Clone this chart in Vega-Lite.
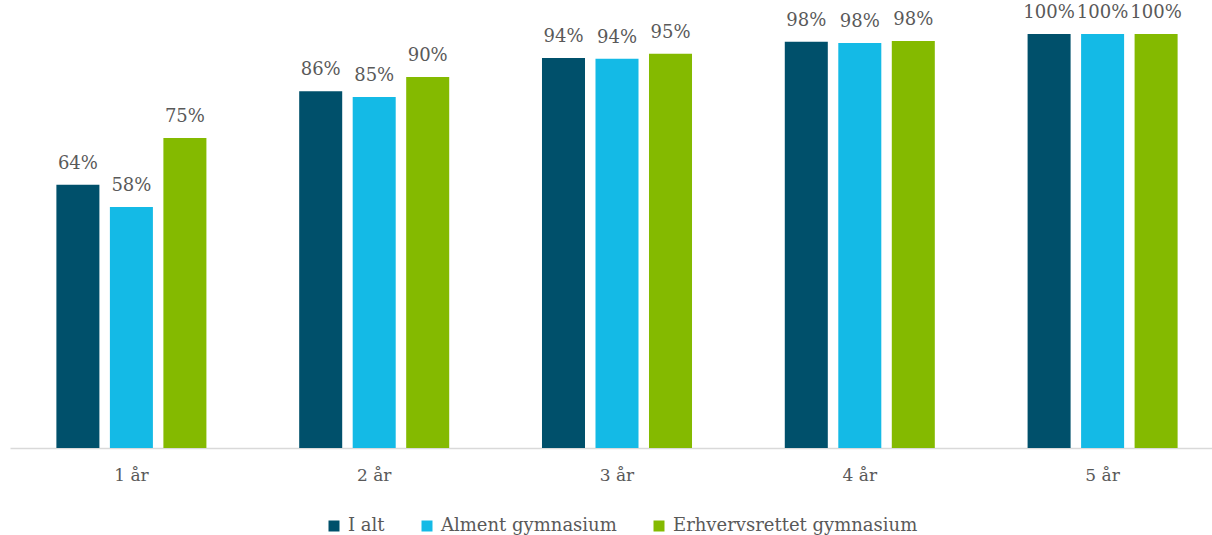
{
  "$schema": "https://vega.github.io/schema/vega-lite/v6.json",
  "autosize": "none",
  "width": 1202,
  "height": 414,
  "padding": {"left": 10, "top": 34, "right": 0, "bottom": 87},
  "background": "white",
  "data": {"values": [
    {"period": "1 år", "group": "I alt", "value": 0.636},
    {"period": "1 år", "group": "Alment gymnasium", "value": 0.582},
    {"period": "1 år", "group": "Erhvervsrettet gymnasium", "value": 0.749},
    {"period": "2 år", "group": "I alt", "value": 0.862},
    {"period": "2 år", "group": "Alment gymnasium", "value": 0.848},
    {"period": "2 år", "group": "Erhvervsrettet gymnasium", "value": 0.896},
    {"period": "3 år", "group": "I alt", "value": 0.942},
    {"period": "3 år", "group": "Alment gymnasium", "value": 0.94},
    {"period": "3 år", "group": "Erhvervsrettet gymnasium", "value": 0.952},
    {"period": "4 år", "group": "I alt", "value": 0.981},
    {"period": "4 år", "group": "Alment gymnasium", "value": 0.978},
    {"period": "4 år", "group": "Erhvervsrettet gymnasium", "value": 0.983},
    {"period": "5 år", "group": "I alt", "value": 1.0},
    {"period": "5 år", "group": "Alment gymnasium", "value": 1.0},
    {"period": "5 år", "group": "Erhvervsrettet gymnasium", "value": 1.0}
  ]},
  "encoding": {
    "x": {
      "field": "period", "type": "nominal", "title": null,
      "scale": {"range": [0, 1214], "paddingInner": 0, "paddingOuter": 0},
      "axis": {"labelAngle": 0, "ticks": false, "domainColor": "#d9d9d9", "domainWidth": 1.5,
               "labelFont": "DejaVu Serif", "labelFontSize": 17, "labelColor": "#595959", "labelPadding": 19}
    },
    "xOffset": {
      "field": "group", "type": "nominal",
      "sort": ["I alt", "Alment gymnasium", "Erhvervsrettet gymnasium"],
      "scale": {"paddingInner": 0.196, "paddingOuter": 0.867}
    },
    "y": {
      "field": "value", "type": "quantitative",
      "scale": {"domain": [0, 1]}, "axis": null
    }
  },
  "layer": [
    {
      "mark": {"type": "bar"},
      "encoding": {
        "color": {
          "field": "group", "type": "nominal",
          "sort": ["I alt", "Alment gymnasium", "Erhvervsrettet gymnasium"],
          "scale": {"domain": ["I alt", "Alment gymnasium", "Erhvervsrettet gymnasium"],
                    "range": ["#00506B", "#14BAE6", "#84BA00"]},
          "legend": {
            "title": null, "orient": "none", "direction": "horizontal",
            "legendX": 315, "legendY": 483,
            "symbolType": "square", "symbolSize": 121, "symbolStrokeWidth": 0,
            "labelFont": "DejaVu Serif", "labelFontSize": 18, "labelColor": "#595959",
            "labelLimit": 0, "labelOffset": 5, "columnPadding": 33
          }
        }
      }
    },
    {
      "mark": {"type": "text", "baseline": "bottom", "dy": -12, "font": "DejaVu Serif", "fontSize": 18, "color": "#595959"},
      "encoding": {
        "text": {"field": "value", "type": "quantitative", "format": ".0%"}
      }
    }
  ],
  "config": {"view": {"stroke": null}}
}
